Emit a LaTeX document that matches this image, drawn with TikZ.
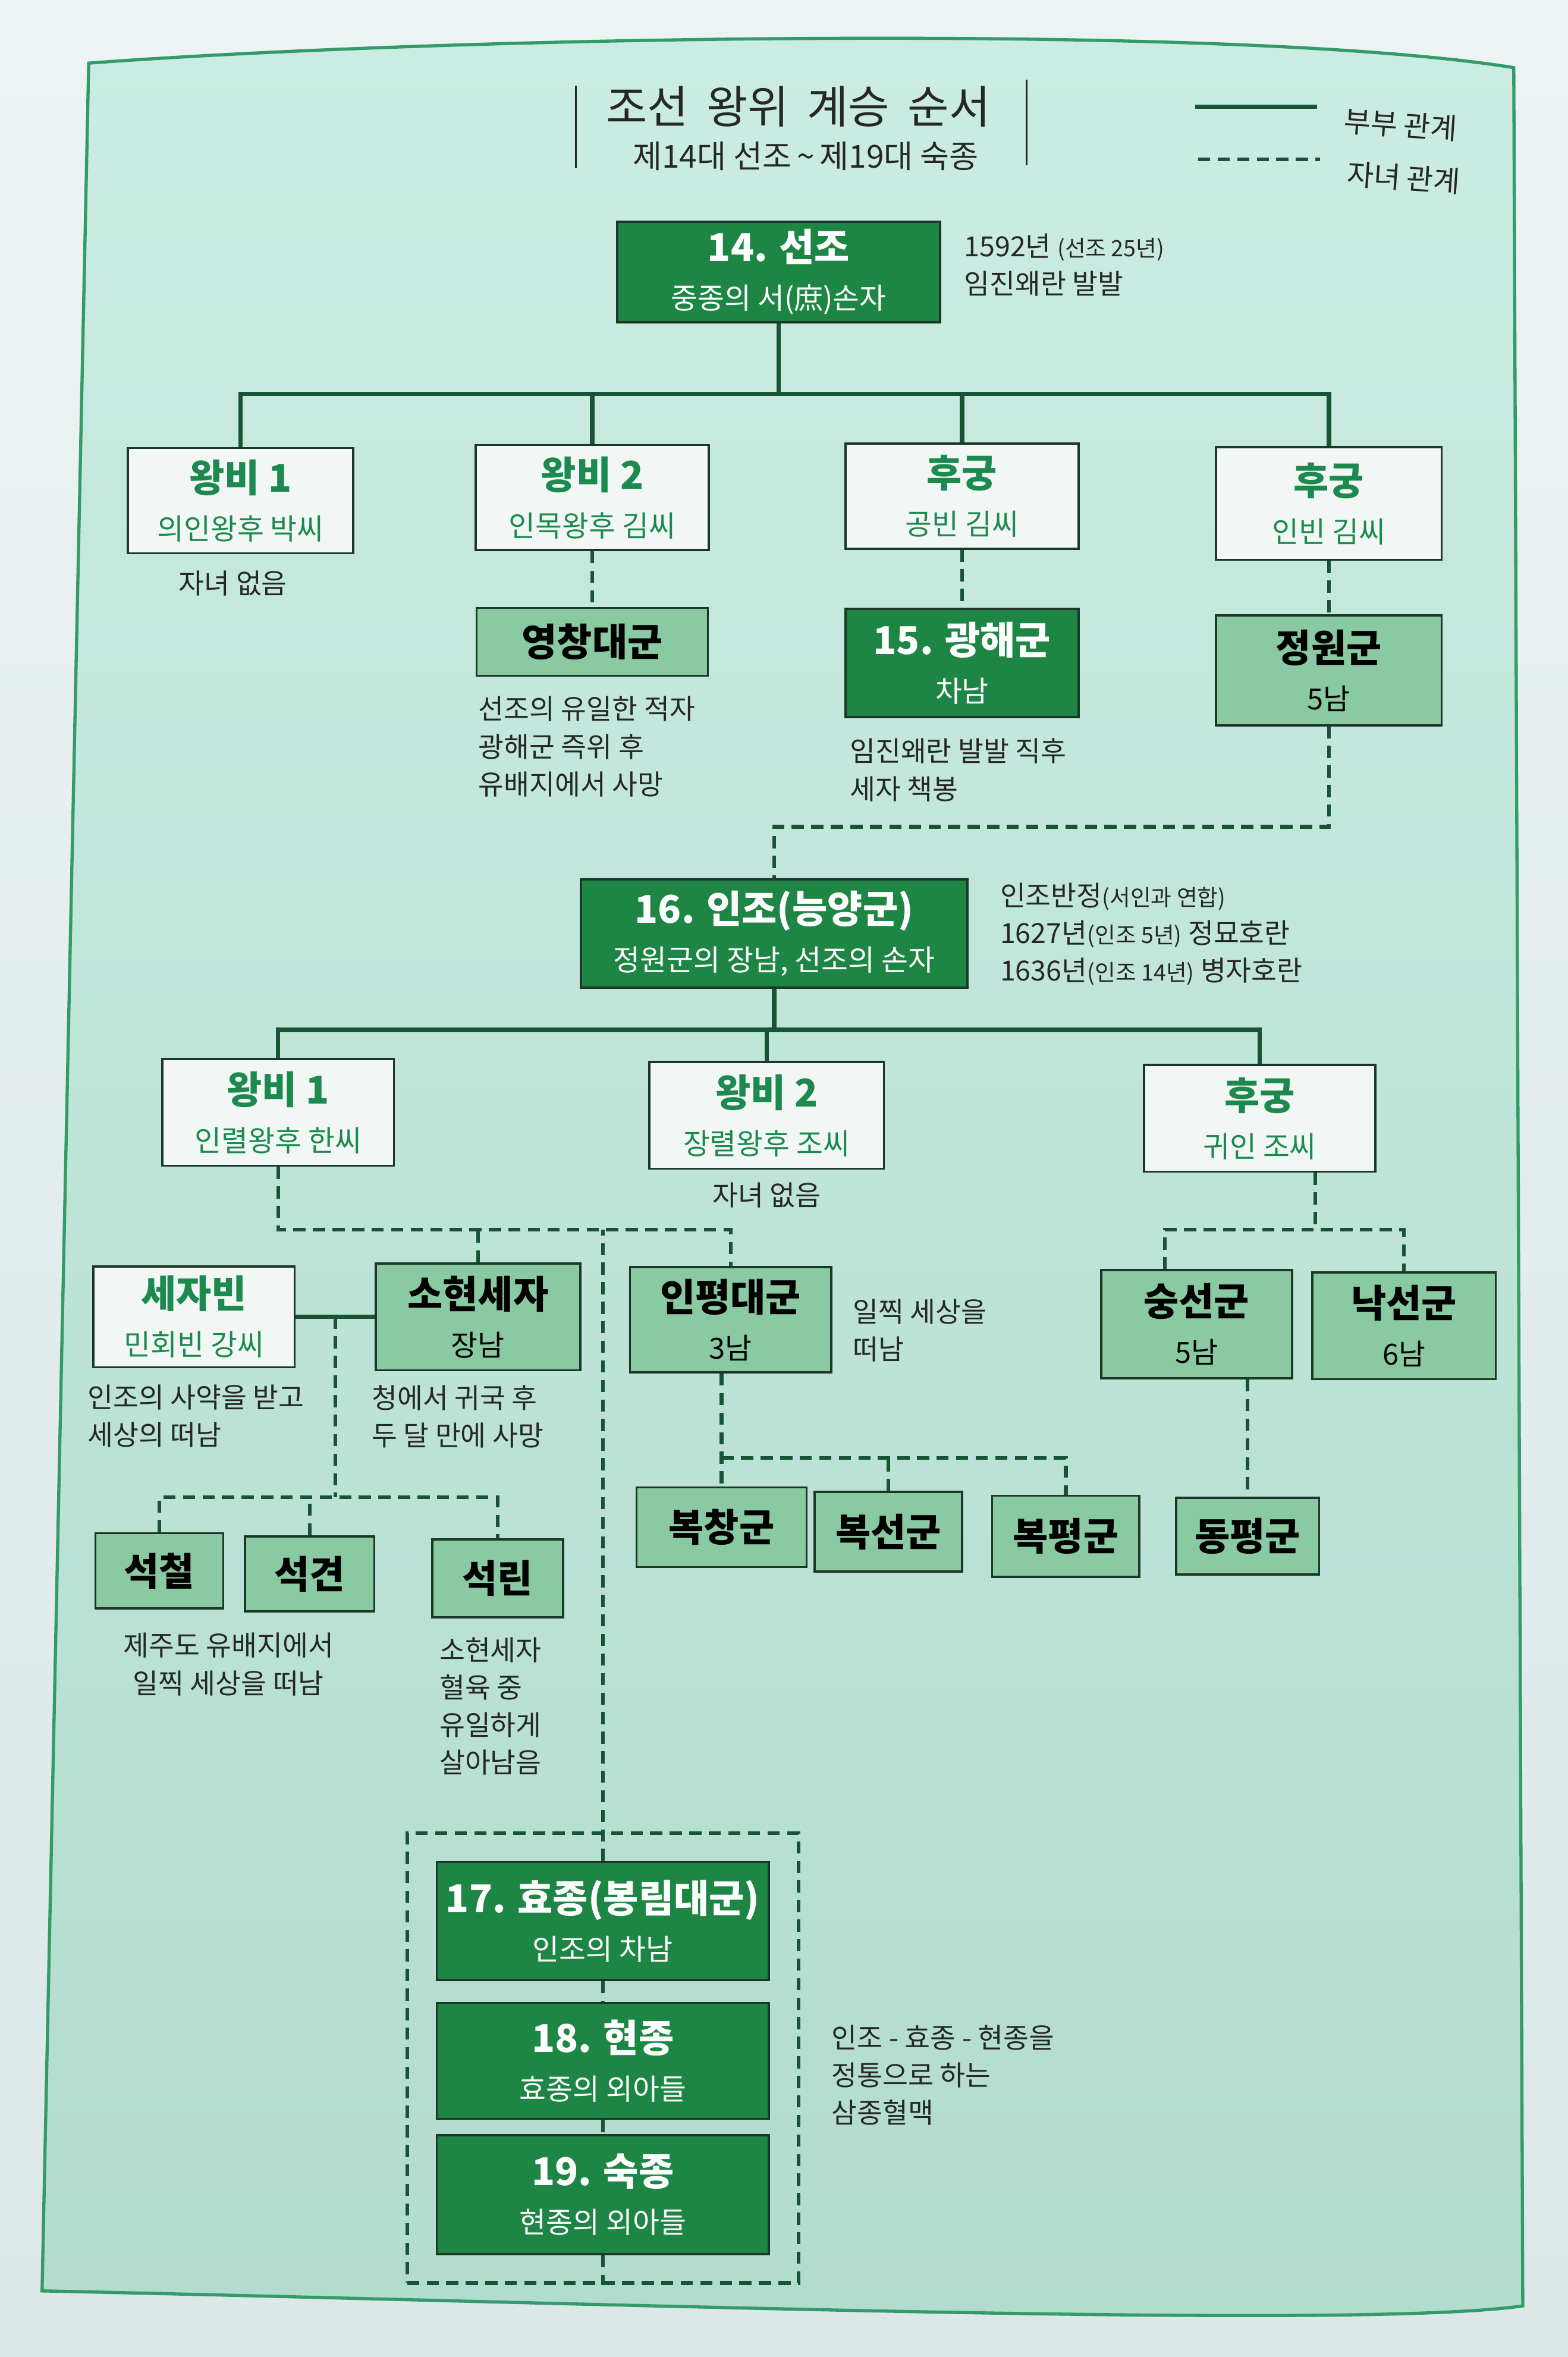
\documentclass[tikz,border=0pt]{standalone}
\usepackage{fontspec}
\setmainfont{Noto Sans CJK KR}
\usetikzlibrary{calc, fit}

\definecolor{pagegraytop}{RGB}{236,243,243}
\definecolor{pagegraybot}{RGB}{220,231,231}
\definecolor{paneltop}{RGB}{203,236,226}
\definecolor{panelbot}{RGB}{178,220,206}
\definecolor{panelborder}{RGB}{50,155,105}
\definecolor{kinggreen}{RGB}{30,134,68}
\definecolor{songreen}{RGB}{138,202,162}
\definecolor{wifewhite}{RGB}{242,247,245}
\definecolor{boxline}{RGB}{28,55,40}
\definecolor{linegreen}{RGB}{22,84,52}
\definecolor{textgreen}{RGB}{28,138,78}
\definecolor{notegray}{RGB}{38,40,40}

\newcommand{\nhead}[1]{{\fontsize{14.5}{18}\selectfont\bfseries #1}}
\newcommand{\nsub}[1]{{\fontsize{11}{18}\selectfont #1}}
\newcommand{\nparen}[1]{{\fontsize{8.5}{14}\selectfont #1}}

\tikzset{
  box/.style={draw=boxline, line width=0.8pt, inner sep=0pt, align=center, font=\fontsize{11}{18}\selectfont},
  kingbox/.style={box, fill=kinggreen, text=white},
  sonbox/.style={box, fill=songreen, text=black},
  wifebox/.style={box, fill=wifewhite, text=textgreen},
  spouseline/.style={draw=linegreen, line width=1.7pt},
  kidline/.style={draw=linegreen, line width=1.4pt, dash pattern=on 4.6pt off 2.8pt},
  lineframe/.style={kidline, inner xsep=0.38cm, inner ysep=0.37cm},
  notetext/.style={font=\fontsize{10.5}{14.2}\selectfont, text=notegray, align=left, anchor=north west, inner sep=0pt},
}

\begin{document}
\begin{tikzpicture}[x=0.02cm, y=-0.02cm]
  \useasboundingbox (0,0) rectangle (1043,1568);
  \shade[top color=pagegraytop, bottom color=pagegraybot] (0,0) rectangle (1043,1568);
  \shade[top color=paneltop, bottom color=panelbot, draw=panelborder, line width=1.2pt]
    (59,42) .. controls (300,24) and (820,15) .. (1007,45) -- (1013,1534)
    .. controls (900,1550) and (400,1532) .. (28,1524) -- cycle;

  \node[text=notegray, font=\fontsize{17}{20}\selectfont] (title) at (531,71)
    {조선\hspace{0.4em}왕위\hspace{0.4em}계승\hspace{0.4em}순서};
  \node[text=notegray, font=\fontsize{12}{14}\selectfont] (subtitle) at (536,104)
    {제14대 선조\,\textasciitilde\,제19대 숙종};
  \draw[notegray, line width=0.6pt] (383,57) -- (383,112);
  \draw[notegray, line width=0.6pt] (683,53) -- (683,110);

  \coordinate (lgA) at (795,71);
  \coordinate (lgB) at (876,71);
  \coordinate (lgC) at (797,106);
  \coordinate (lgD) at (878,106);
  \draw[spouseline] (lgA) -- (lgB);
  \draw[kidline] (lgC) -- (lgD);
  \node[text=notegray, font=\fontsize{11}{13}\selectfont, anchor=west, rotate=-4] (lgspouse) at (888,80) {부부 관계};
  \node[text=notegray, font=\fontsize{11}{13}\selectfont, anchor=west, rotate=-4] (lgkid) at (890,115) {자녀 관계};

  \node[kingbox, minimum width=4.3cm, minimum height=1.34cm] (seonjo) at (518,181)
    {\nhead{14. 선조}\\\nsub{중종의 서(庶)손자}};
  \node[notetext] (seonjonote) at (641,155) {1592년 \nparen{(선조 25년)}\\임진왜란 발발};

  \node[wifebox, minimum width=3.0cm, minimum height=1.4cm] (wb1) at (160,333)
    {\nhead{왕비 1}\\\nsub{의인왕후 박씨}};
  \node[wifebox, minimum width=3.1cm, minimum height=1.4cm] (wb2) at (394,331)
    {\nhead{왕비 2}\\\nsub{인목왕후 김씨}};
  \node[wifebox, minimum width=3.1cm, minimum height=1.4cm] (hg1) at (640,330)
    {\nhead{후궁}\\\nsub{공빈 김씨}};
  \node[wifebox, minimum width=3.0cm, minimum height=1.5cm] (hg2) at (884,335)
    {\nhead{후궁}\\\nsub{인빈 김씨}};
  \node[text=notegray, font=\fontsize{10.5}{13}\selectfont] (nochild1) at (155,388) {자녀 없음};

  \node[sonbox, minimum width=3.08cm, minimum height=0.9cm] (yeongchang) at (394,427)
    {\nhead{영창대군}};
  \node[kingbox, minimum width=3.1cm, minimum height=1.44cm] (gwanghae) at (640,441)
    {\nhead{15. 광해군}\\\nsub{차남}};
  \node[sonbox, minimum width=3.0cm, minimum height=1.46cm] (jeongwon) at (884,446)
    {\nhead{정원군}\\\nsub{5남}};
  \node[notetext] (yeongchangnote) at (318,463) {선조의 유일한 적자\\광해군 즉위 후\\유배지에서 사망};
  \node[notetext] (gwanghaenote) at (565,491) {임진왜란 발발 직후\\세자 책봉};

  \node[kingbox, minimum width=5.14cm, minimum height=1.44cm] (injo) at (515,621)
    {\nhead{16. 인조(능양군)}\\\nsub{정원군의 장남, 선조의 손자}};
  \node[notetext] (injonote) at (665,587)
    {인조반정\nparen{(서인과 연합)}\\1627년\nparen{(인조 5년)} 정묘호란\\1636년\nparen{(인조 14년)} 병자호란};

  \node[wifebox, minimum width=3.08cm, minimum height=1.42cm] (ir) at (185,740)
    {\nhead{왕비 1}\\\nsub{인렬왕후 한씨}};
  \node[wifebox, minimum width=3.12cm, minimum height=1.42cm] (jr) at (510,742)
    {\nhead{왕비 2}\\\nsub{장렬왕후 조씨}};
  \node[wifebox, minimum width=3.08cm, minimum height=1.42cm] (gi) at (838,744)
    {\nhead{후궁}\\\nsub{귀인 조씨}};
  \node[text=notegray, font=\fontsize{10.5}{13}\selectfont] (nochild2) at (510,795) {자녀 없음};

  \node[wifebox, minimum width=2.68cm, minimum height=1.34cm] (sejabin) at (129,876)
    {\nhead{세자빈}\\\nsub{민회빈 강씨}};
  \node[sonbox, minimum width=2.72cm, minimum height=1.42cm] (sohyeon) at (318,876)
    {\nhead{소현세자}\\\nsub{장남}};
  \node[sonbox, minimum width=2.68cm, minimum height=1.4cm] (inpyeong) at (486,878)
    {\nhead{인평대군}\\\nsub{3남}};
  \node[sonbox, minimum width=2.54cm, minimum height=1.44cm] (sungseon) at (796,881)
    {\nhead{숭선군}\\\nsub{5남}};
  \node[sonbox, minimum width=2.44cm, minimum height=1.42cm] (nakseon) at (934,882)
    {\nhead{낙선군}\\\nsub{6남}};
  \node[notetext] (sejabinnote) at (58,921) {인조의 사약을 받고\\세상의 떠남};
  \node[notetext] (sohyeonnote) at (247,921) {청에서 귀국 후\\두 달 만에 사망};
  \node[notetext] (inpyeongnote) at (567,864) {일찍 세상을\\떠남};

  \node[sonbox, minimum width=2.26cm, minimum height=1.06cm] (bokchang) at (480,1016) {\nhead{복창군}};
  \node[sonbox, minimum width=1.96cm, minimum height=1.06cm] (bokseon) at (591,1019) {\nhead{복선군}};
  \node[sonbox, minimum width=1.96cm, minimum height=1.08cm] (bokpyeong) at (709,1022) {\nhead{복평군}};
  \node[sonbox, minimum width=1.9cm, minimum height=1.02cm] (dongpyeong) at (830,1022) {\nhead{동평군}};

  \node[sonbox, minimum width=1.7cm, minimum height=1.0cm] (seokcheol) at (106,1045) {\nhead{석철}};
  \node[sonbox, minimum width=1.72cm, minimum height=1.0cm] (seokgyeon) at (206,1047) {\nhead{석견}};
  \node[sonbox, minimum width=1.74cm, minimum height=1.04cm] (seokrin) at (331,1050) {\nhead{석린}};
  \node[notetext, anchor=north, align=center] (seoknote) at (152,1086) {제주도 유배지에서\\일찍 세상을 떠남};
  \node[notetext] (seokrinnote) at (292,1089) {소현세자\\혈육 중\\유일하게\\살아남음};

  \node[kingbox, minimum width=4.42cm, minimum height=1.57cm] (hyojong) at (401,1278)
    {\nhead{17. 효종(봉림대군)}\\\nsub{인조의 차남}};
  \node[kingbox, minimum width=4.42cm, minimum height=1.54cm] (hyeonjong) at (401,1371)
    {\nhead{18. 현종}\\\nsub{효종의 외아들}};
  \node[kingbox, minimum width=4.42cm, minimum height=1.58cm] (sukjong) at (401,1460)
    {\nhead{19. 숙종}\\\nsub{현종의 외아들}};
  \node[lineframe, fit=(hyojong)(sukjong)] (lineage) {};
  \node[notetext] (lineagenote) at (553,1347) {인조 - 효종 - 현종을\\정통으로 하는\\삼종혈맥};

  \coordinate (bus1) at (518,262);
  \draw[spouseline] (seonjo.south) -- (bus1);
  \draw[spouseline] (wb1.north) |- (bus1) -| (hg2.north);
  \draw[spouseline] (wb2.north) -- (wb2.north |- bus1);
  \draw[spouseline] (hg1.north) -- (hg1.north |- bus1);

  \draw[kidline] (wb2.south) -- (yeongchang.north);
  \draw[kidline] (hg1.south) -- (gwanghae.north);
  \draw[kidline] (hg2.south) -- (jeongwon.north);
  \coordinate (jw) at (884,550);
  \draw[kidline] (jeongwon.south) -- (jw) -| (injo.north);

  \coordinate (bus2) at (515,685);
  \draw[spouseline] (injo.south) -- (bus2);
  \draw[spouseline] (ir.north) |- (bus2) -| (gi.north);
  \draw[spouseline] (jr.north) -- (jr.north |- bus2);

  \coordinate (ch1) at (185,818);
  \draw[kidline] (ir.south) |- (inpyeong.north |- ch1) -- (inpyeong.north);
  \draw[kidline] (sohyeon.north) -- (sohyeon.north |- ch1);
  \draw[kidline] (hyojong.north) -- (hyojong.north |- ch1);

  \coordinate (ch2) at (875,818);
  \coordinate (ch3) at (775,818);
  \draw[kidline] (gi.south -| ch2) -- (ch2);
  \draw[kidline] (ch3 |- sungseon.north) |- (ch2) -| (nakseon.north);
  \draw[kidline] (dongpyeong.north |- sungseon.south) -- (dongpyeong.north);

  \coordinate (ch4) at (480,970);
  \draw[kidline] (bokchang.north |- inpyeong.south) -- (bokchang.north);
  \draw[kidline] (ch4) -| (bokpyeong.north);
  \draw[kidline] (bokseon.north) -- (bokseon.north |- ch4);

  \draw[spouseline] (sejabin.east) -- (sohyeon.west);
  \coordinate (sj) at ($(sejabin.east)!.5!(sohyeon.west)$);
  \coordinate (ch5) at ($(sj)+(0,120)$);
  \draw[kidline] (sj) -- (ch5);
  \draw[kidline] (seokcheol.north) |- (ch5) -| (seokrin.north);
  \draw[kidline] (seokgyeon.north) -- (seokgyeon.north |- ch5);

  \draw[kidline] (hyojong.south) -- (hyeonjong.north);
  \draw[kidline] (hyeonjong.south) -- (sukjong.north);
  \draw[kidline] (sukjong.south) -- (sukjong.south |- lineage.south);
\end{tikzpicture}
\end{document}
